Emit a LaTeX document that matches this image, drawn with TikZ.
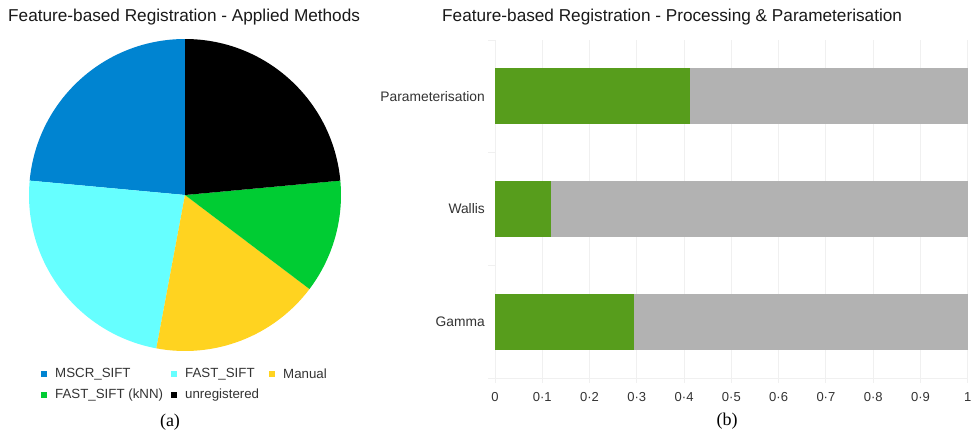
\documentclass[tikz,border=0pt]{standalone}
\usepackage{fontspec}
\setmainfont{Liberation Sans}
\newfontfamily\capfont{Liberation Serif}
\usetikzlibrary{positioning}

\definecolor{mscrblue}{HTML}{0084D1}
\definecolor{fastcyan}{HTML}{66FFFF}
\definecolor{manualyellow}{HTML}{FFD320}
\definecolor{knngreen}{HTML}{00CC33}
\definecolor{bargreen}{HTML}{579D1C}
\definecolor{bargray}{HTML}{B2B2B2}
\definecolor{gridgray}{HTML}{F0F0F0}
\definecolor{labelgray}{HTML}{333333}

\tikzset{
	charttitle/.style={anchor=west, inner sep=0pt, text=black!90, font=\fontsize{17.2}{20}\selectfont},
	legendtext/.style={anchor=west, inner sep=0pt, text=labelgray, font=\fontsize{13.3}{15}\selectfont},
	catlabel/.style={anchor=east, inner sep=0pt, text=labelgray, font=\fontsize{13.8}{16}\selectfont},
	ticklabel/.style={anchor=center, inner sep=0pt, text=labelgray, font=\fontsize{13}{15}\selectfont},
	subcaption/.style={anchor=center, inner sep=0pt, font=\capfont\fontsize{18}{21}\selectfont},
	gridline/.style={draw=gridgray, line width=0.8pt}
}

% one pie slice, angles in degrees, radius in px
\newcommand{\pieslice}[3]{\fill[#3] (0,0) -- (#1:156) arc[start angle=#1, end angle=#2, radius=156] -- cycle;}

% legend square plus its text
\newcommand{\legenditem}[5]{\fill[#4] (#2,#3-3) rectangle (#2+6,#3+3);
	\node[legendtext] (#1) at (#2+14,#3) {#5};}

% grid line, tick and label at one x value
\newcommand{\xtick}[3]{\draw[gridline] (#2,40) -- (#2,383);
	\node[ticklabel] (#1) at (#2,397) {#3};}

% one stacked bar: name, centre y, green share, label
\newcommand{\regbar}[4]{\fill[bargray] (495,#2-28) rectangle (967.7,#2+28);
	\fill[bargreen] (495,#2-28) rectangle ({495+472.7*#3},#2+28);
	\node[catlabel] (#1) at (485,#2) {#4};}

\begin{document}
\begin{tikzpicture}[x=1pt, y=-1pt]

	\useasboundingbox[fill=white] (0,0) rectangle (972,434);

	% left: applied methods
	\node[charttitle] (titlea) at (8,17) {Feature-based Registration - Applied Methods};

	\begin{scope}[shift={(185,195)}, y=1pt]
		\pieslice{90}{174.706}{mscrblue}
		\pieslice{174.706}{259.412}{fastcyan}
		\pieslice{259.412}{322.941}{manualyellow}
		\pieslice{322.941}{365.294}{knngreen}
		\pieslice{365.294}{450}{black}
	\end{scope}

	\legenditem{legmscr}{41}{374}{mscrblue}{MSCR\_SIFT}
	\legenditem{legfast}{171}{374}{fastcyan}{FAST\_SIFT}
	\legenditem{legmanual}{269}{374}{manualyellow}{Manual}
	\legenditem{legknn}{41}{395}{knngreen}{FAST\_SIFT (kNN)}
	\legenditem{legunreg}{171}{395}{black}{unregistered}

	\node[subcaption] (capa) at (170,422) {(a)};

	% right: processing and parameterisation
	\node[charttitle] (titleb) at (442,17) {Feature-based Registration - Processing \& Parameterisation};

	\xtick{tick0}{495}{0}
	\xtick{tick1}{542.27}{0·1}
	\xtick{tick2}{589.54}{0·2}
	\xtick{tick3}{636.81}{0·3}
	\xtick{tick4}{684.08}{0·4}
	\xtick{tick5}{731.35}{0·5}
	\xtick{tick6}{778.62}{0·6}
	\xtick{tick7}{825.89}{0·7}
	\xtick{tick8}{873.16}{0·8}
	\xtick{tick9}{920.43}{0·9}
	\xtick{tick10}{967.7}{1}

	\draw[gridline] (488,378) -- (967.7,378);
	\draw[gridline] (488,40) -- (495,40);
	\draw[gridline] (488,152.7) -- (495,152.7);
	\draw[gridline] (488,265.3) -- (495,265.3);

	\regbar{param}{96.3}{0.4118}{Parameterisation}
	\regbar{wallis}{209}{0.1176}{Wallis}
	\regbar{gamma}{321.7}{0.2941}{Gamma}

	\node[subcaption] (capb) at (727,421) {(b)};

\end{tikzpicture}
\end{document}
